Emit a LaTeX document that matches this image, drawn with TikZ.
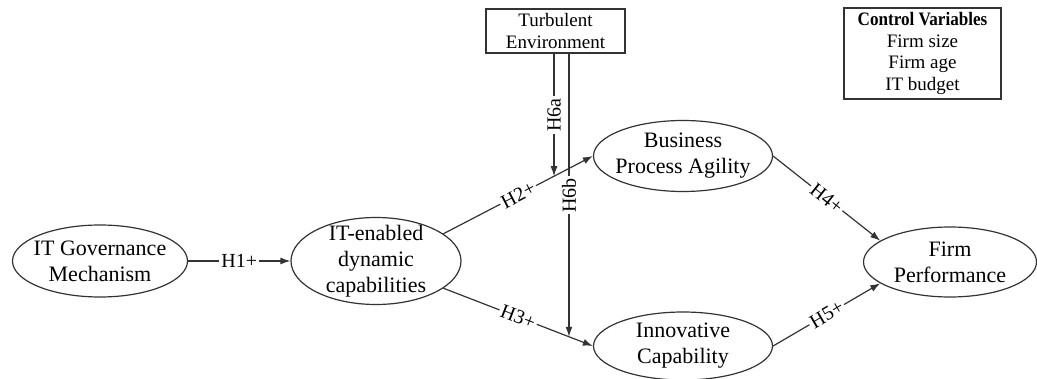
\documentclass[tikz,border=0pt]{standalone}
\usepackage{fontspec}
\setmainfont{Liberation Serif}
\usetikzlibrary{shapes.geometric, arrows.meta}
\begin{document}
\begin{tikzpicture}[
        x=0.5pt, y=-0.5pt,
        construct/.style={draw=black!80, ellipse, line width=0.6pt, inner sep=-10pt, align=center, font=\fontsize{11}{13}\selectfont},
        varbox/.style={draw=black!80, rectangle, line width=0.8pt, inner sep=0.5pt, align=center},
        hyp/.style={fill=white, inner sep=1pt, font=\fontsize{10}{12}\selectfont},
        link/.style={draw=black!80, line width=0.6pt, -{Latex[length=5pt, width=3.5pt]}},
    ]
    \useasboundingbox (0,0) rectangle (1037,379);

    % Define Construct Nodes
    \node[construct, minimum width=87.5pt, minimum height=36pt] (ITG) at (100, 261) {IT Governance\\Mechanism};
    \node[construct, minimum width=85pt, minimum height=43.5pt] (ITE) at (376, 261) {IT-enabled\\dynamic\\capabilities};
    \node[construct, minimum width=89.5pt, minimum height=35.5pt] (BPA) at (683, 156) {Business\\Process Agility};
    \node[construct, minimum width=89.5pt, minimum height=34pt] (IC) at (683, 346) {Innovative\\Capability};
    \node[construct, minimum width=86.5pt, minimum height=35pt] (FP) at (950, 262) {Firm\\Performance};

    % Define Boxes (moderator and controls)
    \node[varbox, minimum width=69.5pt, minimum height=22pt, font=\fontsize{9.5}{11}\selectfont] (TE) at (555.5, 31) {Turbulent\\Environment};
    \node[varbox, minimum width=78.5pt, minimum height=45.5pt, font=\fontsize{9.5}{10.7}\selectfont] (CV) at (922.5, 53.5)
        {\scalebox{0.9}[1]{\textbf{Control Variables}}\\Firm size\\Firm age\\IT budget};

    % Draw Hypothesis Paths
    \draw[link] (ITG) -- node[hyp] {H1+} (ITE);
    \draw[link] (ITE.22) -- coordinate[pos=0.74] (m2) node[hyp, sloped] {H2+} (BPA.west);
    \draw[link] (ITE.-22) -- coordinate[pos=0.84] (m3) node[hyp, sloped] {H3+} (IC.west);
    \draw[link] (BPA.east) -- node[hyp, sloped] {H4+} (FP.163);
    \draw[link] (IC.east) -- node[hyp, sloped] {H5+} (FP.197);

    % Draw Moderating Paths (Environment -> Paths)
    \draw[link] (m2 |- TE.south) -- node[hyp, rotate=90] {H6a} (m2);
    \draw[link] (m3 |- TE.south) -- node[hyp, rotate=90] {H6b} (m3);
\end{tikzpicture}
\end{document}
